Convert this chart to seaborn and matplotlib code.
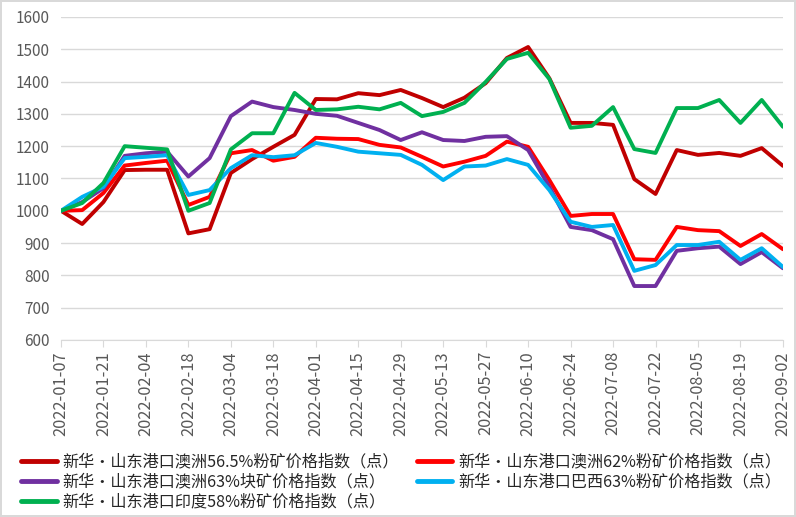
import matplotlib
matplotlib.use("Agg")
import matplotlib.pyplot as plt
import matplotlib.dates as mdates
import pandas as pd
import seaborn as sns

sns.set_style("white")
plt.rcParams['font.family'] = ['Noto Sans CJK SC', 'DejaVu Sans']

dates = pd.date_range("2022-01-07", "2022-09-02", freq="7D")

names = [
    "新华·山东港口澳洲56.5%粉矿价格指数（点）",
    "新华·山东港口澳洲62%粉矿价格指数（点）",
    "新华·山东港口澳洲63%块矿价格指数（点）",
    "新华·山东港口巴西63%粉矿价格指数（点）",
    "新华·山东港口印度58%粉矿价格指数（点）",
]

aus565 = [1000, 959, 1027, 1126, 1127, 1127, 930, 943, 1117, 1160,
          1198, 1235, 1346, 1345, 1364, 1358, 1374, 1349, 1321, 1350,
          1395, 1473, 1507, 1410, 1272, 1272, 1266, 1098, 1052, 1188,
          1173, 1179, 1170, 1194, 1139]
aus62 = [1000, 1002, 1055, 1140, 1148, 1155, 1018, 1043, 1178, 1188,
         1155, 1167, 1226, 1223, 1222, 1204, 1196, 1167, 1137, 1152,
         1170, 1214, 1198, 1095, 984, 990, 990, 850, 848, 950,
         940, 937, 891, 928, 881]
aus63_lump = [1000, 1027, 1070, 1170, 1178, 1183, 1106, 1163, 1293, 1338,
              1321, 1312, 1300, 1294, 1272, 1250, 1219, 1243, 1219, 1216,
              1229, 1231, 1188, 1074, 950, 940, 912, 767, 767, 876,
              884, 889, 835, 872, 822]
bra63 = [1000, 1043, 1074, 1163, 1167, 1172, 1049, 1064, 1132, 1172,
         1166, 1172, 1210, 1198, 1183, 1178, 1173, 1142, 1095, 1137,
         1140, 1160, 1142, 1064, 966, 950, 956, 814, 832, 894,
         894, 904, 848, 884, 826]
ind58 = [1000, 1024, 1086, 1200, 1195, 1190, 1000, 1024, 1190, 1240,
         1240, 1365, 1312, 1314, 1322, 1314, 1334, 1293, 1306, 1334,
         1399, 1470, 1489, 1408, 1257, 1263, 1321, 1191, 1179, 1318,
         1318, 1343, 1272, 1343, 1260]

colors = ["#C00000", "#FF0000", "#7030A0", "#00B0F0", "#00B050"]

df = pd.DataFrame({"date": dates,
                   names[0]: aus565, names[1]: aus62, names[2]: aus63_lump,
                   names[3]: bra63, names[4]: ind58})
long = df.melt(id_vars="date", var_name="series", value_name="value")

fig = plt.figure(figsize=(7.96, 5.17), dpi=100)
fig.patch.set_edgecolor("#d9d9d9")
fig.patch.set_linewidth(1.5)
ax = fig.add_axes([0.0766, 0.3424, 0.907, 0.6248])

sns.lineplot(data=long, x="date", y="value", hue="series",
             hue_order=names, palette=colors, linewidth=2.8, ax=ax,
             legend=False)

ax.set_xlim(dates[0], dates[-1])
ax.set_ylim(600, 1600)
ax.set_yticks(range(600, 1601, 100))
ax.set_xticks(dates[::2])
ax.xaxis.set_major_formatter(mdates.DateFormatter("%Y-%m-%d"))
ax.set_xlabel("")
ax.set_ylabel("")
ax.grid(axis="y", color="#d9d9d9", linewidth=1)
ax.grid(axis="x", visible=False)
for s in ["top", "right", "left"]:
    ax.spines[s].set_visible(False)
ax.spines["bottom"].set_color("#d9d9d9")
ax.tick_params(axis="x", rotation=90, length=5, color="#d9d9d9",
               labelsize=11.8, labelcolor="#595959", bottom=True, pad=3)
ax.tick_params(axis="y", length=0, labelsize=11, labelcolor="#595959", pad=8)

# row-major legend order (matplotlib fills columns first)
order = [0, 2, 4, 1, 3]
handles = [plt.Line2D([], [], color=colors[i], linewidth=3.5) for i in order]
labels = [names[i] for i in order]
fig.legend(handles, labels, loc="upper left", bbox_to_anchor=(0.027, 0.123),
           ncol=2, frameon=False, fontsize=11.6, handlelength=2.2,
           handletextpad=0.35, columnspacing=1.1, labelspacing=0.2,
           borderaxespad=0, borderpad=0)

fig.savefig("out.png", dpi=100)
